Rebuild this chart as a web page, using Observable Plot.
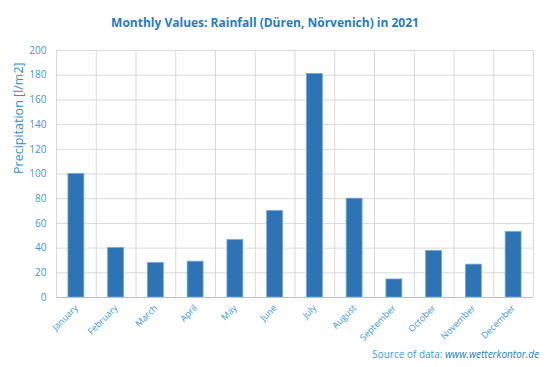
<!DOCTYPE html>
<html>
<head>
<meta charset="utf-8">
<script src="https://cdn.jsdelivr.net/npm/d3@7"></script>
<script src="https://cdn.jsdelivr.net/npm/@observablehq/plot@0.6"></script>
<style>
  html, body { margin: 0; padding: 0; background: #fff; }
  #chart svg { display: block; }
</style>
</head>
<body>
<div id="chart"></div>
<script>
const months = ["January","February","March","April","May","June","July","August","September","October","November","December"];
const rainfall = [100, 40, 28, 29, 46.5, 70, 181, 80, 14.6, 37.6, 26.6, 53];
const yTicks = [0, 20, 40, 60, 80, 100, 120, 140, 160, 180, 200];
const title = "Monthly Values: Rainfall (Düren, Nörvenich) in 2021";
const yLabel = "Precipitation [l/m2]";
const sourcePrefix = "Source of data: ";
const sourceSite = "www.wetterkontor.de";

const data = months.map((m, i) => ({month: m, index: i, value: rainfall[i]}));
const boundaries = d3.range(months.length + 1);

const labelColor = "#3b97d8";
const font = "'Open Sans', sans-serif";

const chart = Plot.plot({
  width: 550,
  height: 367,
  marginTop: 50,
  marginBottom: 70,
  marginLeft: 56,
  marginRight: 17,
  style: {fontFamily: font, background: "#fff"},
  x: {domain: [0, months.length], axis: null},
  y: {domain: [0, 200], axis: null},
  marks: [
    Plot.ruleY(yTicks, {stroke: "#d9d9d9", strokeWidth: 1}),
    Plot.ruleX(boundaries, {stroke: "#d9d9d9", strokeWidth: 1}),
    Plot.rectY(data, {
      x1: d => d.index + 0.3,
      x2: d => d.index + 0.7,
      y1: 0,
      y2: "value",
      fill: "#2e74b5",
      stroke: "#6ea6dc",
      strokeWidth: 0.8
    }),
    Plot.ruleY([0], {stroke: "#bfbfbf", strokeWidth: 1}),
    Plot.axisY({
      ticks: yTicks,
      tickSize: 0,
      tickPadding: 10,
      label: null,
      fill: labelColor,
      fontSize: 10
    }),
    Plot.axisX({
      ticks: data.map(d => d.index + 0.5),
      tickFormat: v => months[Math.floor(v)],
      tickSize: 0,
      tickPadding: 9,
      tickRotate: -45,
      label: null,
      fill: labelColor,
      fontSize: 9
    }),
    Plot.text([title], {
      frameAnchor: "top",
      dx: -30,
      dy: -32,
      fill: "#1f7dc2",
      fontSize: 12,
      fontWeight: "bold",
      text: d => d
    }),
    Plot.text([yLabel], {
      frameAnchor: "left",
      dx: -38,
      rotate: -90,
      fill: "#2e8fd6",
      fontSize: 12.5,
      text: d => d
    })
  ]
});

// source line
const svg = d3.select(chart);
const src = svg.append("text")
  .attr("x", 539)
  .attr("y", 358)
  .attr("text-anchor", "end")
  .attr("fill", "#3b97d8")
  .attr("font-size", 10)
  .attr("font-family", font);
src.append("tspan").text(sourcePrefix);
src.append("tspan").attr("font-style", "italic").attr("fill", "#1f7dc2").text(sourceSite);

document.getElementById("chart").appendChild(chart);
</script>
</body>
</html>
